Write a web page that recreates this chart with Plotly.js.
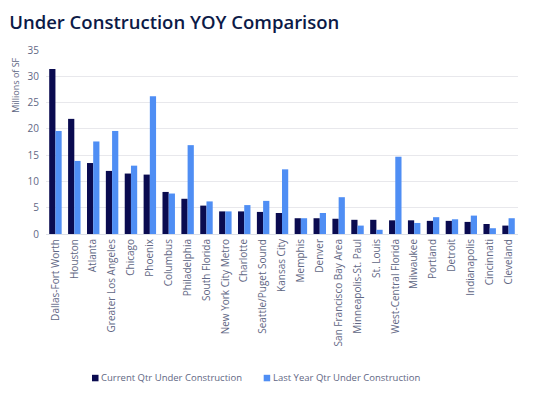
<!DOCTYPE html>
<html>
<head>
<meta charset="utf-8">
<script src="https://cdn.plot.ly/plotly-3.0.1.min.js"></script>
<style>
  html, body { margin: 0; padding: 0; background: #fff; }
  #chart { width: 539px; height: 408px; }
</style>
</head>
<body>
<div id="chart"></div>
<script>
// markets, sorted by current quarter
var markets = [
  'Dallas-Fort Worth', 'Houston', 'Atlanta', 'Greater Los Angeles', 'Chicago',
  'Phoenix', 'Columbus', 'Philadelphia', 'South Florida', 'New York City Metro',
  'Charlotte', 'Seattle/Puget Sound', 'Kansas City', 'Memphis', 'Denver',
  'San Francisco Bay Area', 'Minneapolis-St. Paul', 'St. Louis', 'West-Central Florida', 'Milwaukee',
  'Portland', 'Detroit', 'Indianapolis', 'Cincinnati', 'Cleveland'
];

// millions of SF
var currentQtr = [
  31.4, 21.9, 13.5, 12.0, 11.5,
  11.3, 8.0, 6.7, 5.4, 4.3,
  4.3, 4.2, 4.0, 3.0, 3.0,
  2.9, 2.7, 2.7, 2.6, 2.6,
  2.5, 2.5, 2.3, 1.9, 1.6
];
var lastYearQtr = [
  19.6, 13.9, 17.6, 19.6, 13.0,
  26.2, 7.7, 16.9, 6.2, 4.3,
  5.5, 6.3, 12.3, 3.0, 4.0,
  7.0, 1.6, 0.8, 14.7, 2.1,
  3.2, 2.8, 3.5, 1.1, 3.0
];

var yTicks = [0, 5, 10, 15, 20, 25, 30, 35];

var navy = '#0a0b50';
var blue = '#4f8ef4';
var textGrey = '#5f6784';

var traces = [
  {
    type: 'bar',
    name: 'Current Qtr Under Construction',
    x: markets,
    y: currentQtr,
    marker: { color: navy },
    hoverinfo: 'x+y'
  },
  {
    type: 'bar',
    name: 'Last Year Qtr Under Construction',
    x: markets,
    y: lastYearQtr,
    marker: { color: blue },
    hoverinfo: 'x+y'
  }
];

// hand-made legend: pixel-sized swatch + label, so the swatch sits tight to the text
var swatchX = [0.0975, 0.4612];
var labelX = [0.1159, 0.4803];
var legendShapes = traces.map(function (t, i) {
  return {
    type: 'rect',
    xref: 'paper', yref: 'paper',
    xsizemode: 'pixel', ysizemode: 'pixel',
    xanchor: swatchX[i], yanchor: -0.8005,
    x0: 0, x1: 6.5, y0: 0, y1: 6.5,
    fillcolor: t.marker.color,
    line: { width: 0 }
  };
});
var legendNotes = traces.map(function (t, i) {
  return {
    text: t.name,
    xref: 'paper', yref: 'paper',
    x: labelX[i], y: -0.78,
    xanchor: 'left', yanchor: 'middle',
    xshift: -2,
    showarrow: false,
    font: { size: 9.5, color: textGrey }
  };
});

var layout = {
  width: 539,
  height: 408,
  margin: { l: 46, r: 21, t: 50, b: 174 },
  paper_bgcolor: '#fff',
  plot_bgcolor: '#fff',
  font: { family: 'Open Sans, sans-serif', size: 10, color: textGrey },
  title: {
    text: 'Under Construction YOY Comparison',
    x: 0.017, xanchor: 'left',
    y: 0.93, yanchor: 'bottom',
    font: { family: 'Open Sans, sans-serif', size: 18.5, color: '#0c1a47', weight: 600 }
  },
  barmode: 'group',
  bargap: 0.34,
  bargroupgap: 0,
  xaxis: {
    tickangle: -90,
    tickfont: { size: 10, color: textGrey },
    showgrid: false,
    showline: true,
    linecolor: '#dcdfe6',
    linewidth: 1,
    ticks: '',
    automargin: false
  },
  yaxis: {
    range: [0, 35],
    tickvals: yTicks,
    ticktext: yTicks.map(String),
    gridcolor: '#e8e8ec',
    gridwidth: 1,
    zeroline: false,
    ticks: '',
    ticklabelstandoff: 6,
    tickfont: { size: 10, color: textGrey },
    automargin: false
  },
  showlegend: false,
  shapes: legendShapes,
  annotations: [
    {
      text: 'Millions of SF',
      xref: 'paper', yref: 'paper',
      x: -0.066, y: 0.97,
      xanchor: 'center', yanchor: 'top',
      textangle: -90,
      showarrow: false,
      font: { size: 9, color: textGrey }
    }
  ].concat(legendNotes)
};

Plotly.newPlot('chart', traces, layout, { displayModeBar: false, responsive: false });
</script>
</body>
</html>
